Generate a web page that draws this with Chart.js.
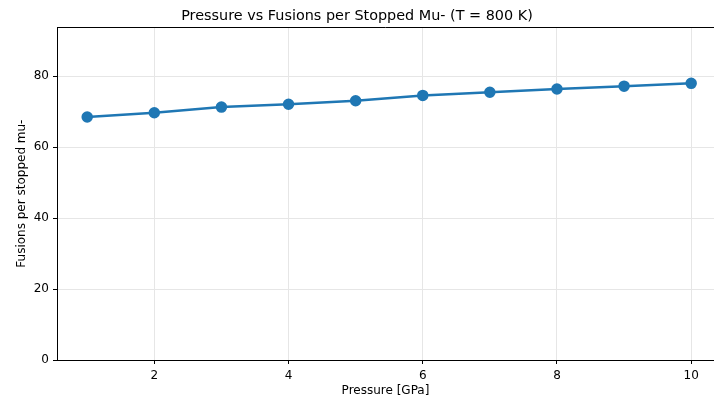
<!DOCTYPE html>
<html>
<head>
<meta charset="utf-8">
<script src="https://cdn.jsdelivr.net/npm/chart.js@4"></script>
<style>
  html, body { margin: 0; padding: 0; background: #fff; }
  #wrap { width: 714px; height: 398px; }
</style>
</head>
<body>
<div id="wrap"><canvas id="chart" width="714" height="398"></canvas></div>
<script>
// pressure in GPa
const pressures = [1, 2, 3, 4, 5, 6, 7, 8, 9, 10];
// fusions per stopped muon at T = 800 K
const fusions = [68.5, 69.7, 71.3, 72.1, 73.1, 74.6, 75.5, 76.4, 77.2, 78.0];
const xTicks = [2, 4, 6, 8, 10];
const yTicks = [0, 20, 40, 60, 80];

const font = "'DejaVu Sans', sans-serif";
const gridColor = '#e6e6e6';
const axisColor = '#000';

// top spine (matplotlib frame), drawn as a line
const topSpine = {
  id: 'topSpine',
  afterDraw(chart) {
    const a = chart.chartArea;
    const ctx = chart.ctx;
    ctx.save();
    ctx.strokeStyle = axisColor;
    ctx.lineWidth = 1;
    ctx.beginPath();
    ctx.moveTo(a.left, Math.round(a.top) + 0.5);
    ctx.lineTo(chart.width, Math.round(a.top) + 0.5);
    ctx.stroke();
    ctx.restore();
  }
};

new Chart(document.getElementById('chart').getContext('2d'), {
  type: 'line',
  data: {
    datasets: [{
      data: pressures.map((p, i) => ({ x: p, y: fusions[i] })),
      borderColor: '#1f77b4',
      backgroundColor: '#1f77b4',
      borderWidth: 2.5,
      pointRadius: 4.5,
      pointHoverRadius: 4.5,
      tension: 0,
      clip: false
    }]
  },
  options: {
    responsive: false,
    animation: false,
    layout: { padding: 0, autoPadding: false },
    plugins: {
      legend: { display: false },
      tooltip: { enabled: false },
      title: {
        display: true,
        text: 'Pressure vs Fusions per Stopped Mu- (T = 800 K)',
        color: '#000',
        font: { family: font, size: 14.4, weight: 'normal' },
        padding: { top: 8, bottom: 2 }
      }
    },
    scales: {
      x: {
        type: 'linear',
        min: 0.55,
        max: 10.34,
        afterBuildTicks: (s) => { s.ticks = xTicks.map(v => ({ value: v })); },
        afterFit: (s) => { s.height = 38; s.paddingRight = 0; s.paddingLeft = 0; },
        ticks: { color: '#000', font: { family: font, size: 12 }, padding: 5, maxRotation: 0 },
        grid: { color: gridColor, tickColor: axisColor, tickLength: 4, lineWidth: 1 },
        border: { color: axisColor, width: 1 },
        title: {
          display: true, text: 'Pressure [GPa]', color: '#000',
          font: { family: font, size: 12 }, padding: { top: 2, bottom: 0 }
        }
      },
      y: {
        min: 0,
        max: 93.8,
        afterBuildTicks: (s) => { s.ticks = yTicks.map(v => ({ value: v })); },
        afterFit: (s) => { s.width = 57; s.paddingTop = 0; s.paddingBottom = 0; },
        ticks: { color: '#000', font: { family: font, size: 12 }, padding: 4 },
        grid: { color: gridColor, tickColor: axisColor, tickLength: 4, lineWidth: 1 },
        border: { color: axisColor, width: 1 },
        title: {
          display: true, text: 'Fusions per stopped mu-', color: '#000',
          font: { family: font, size: 12 }, padding: { top: 15, bottom: 0 }
        }
      }
    }
  },
  plugins: [topSpine]
});
</script>
</body>
</html>
